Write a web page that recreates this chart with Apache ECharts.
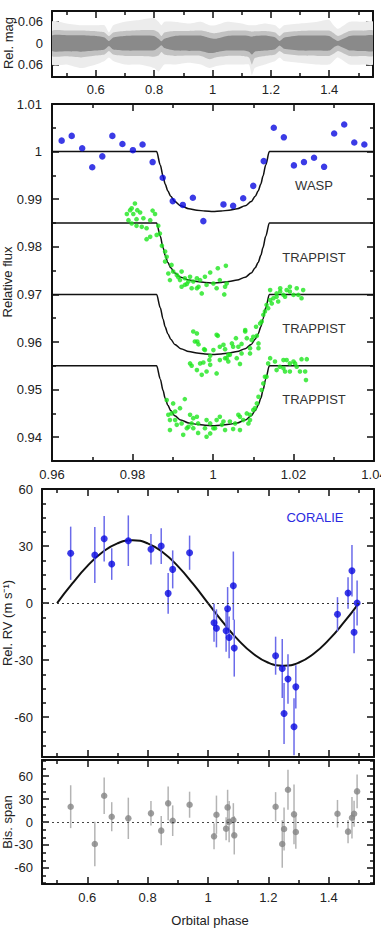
<!DOCTYPE html>
<html>
<head>
<meta charset="utf-8">
<script src="https://cdn.jsdelivr.net/npm/echarts@6/dist/echarts.min.js"></script>
<style>
  html, body { margin: 0; padding: 0; background: #fff; }
  #chart { width: 381px; height: 939px; }
</style>
</head>
<body>
<div id="chart"></div>
<script>
// ---- photometry overview (Rel. mag), band envelope ----
var magPhase = [0.45, 0.50, 0.55, 0.60, 0.63, 0.645, 0.66, 0.70, 0.75, 0.80, 0.815, 0.825, 0.835, 0.87, 0.92, 0.96, 0.99, 1.01, 1.05, 1.10, 1.125, 1.135, 1.145, 1.18, 1.215, 1.23, 1.245, 1.30, 1.36, 1.40, 1.415, 1.43, 1.47, 1.52, 1.55];
var magCoreLo = [-0.021, -0.022, -0.022, -0.020, -0.016, -0.006, -0.016, -0.020, -0.021, -0.020, -0.012, -0.005, -0.012, -0.020, -0.021, -0.021, -0.014, -0.012, -0.020, -0.021, -0.020, -0.018, -0.020, -0.021, -0.016, -0.006, -0.015, -0.021, -0.021, -0.020, -0.012, -0.006, -0.020, -0.021, -0.021];
var magCoreHi = [0.022, 0.023, 0.024, 0.021, 0.018, 0.008, 0.018, 0.021, 0.021, 0.020, 0.012, 0.006, 0.014, 0.021, 0.022, 0.022, 0.028, 0.026, 0.021, 0.021, 0.024, 0.032, 0.024, 0.021, 0.017, 0.007, 0.016, 0.021, 0.021, 0.021, 0.012, 0.007, 0.021, 0.022, 0.022];
var magMidLo = [-0.034, -0.035, -0.035, -0.033, -0.030, -0.020, -0.030, -0.034, -0.036, -0.036, -0.030, -0.020, -0.030, -0.034, -0.034, -0.035, -0.030, -0.028, -0.034, -0.035, -0.034, -0.032, -0.033, -0.034, -0.030, -0.020, -0.030, -0.034, -0.035, -0.035, -0.028, -0.020, -0.034, -0.035, -0.035];
var magMidHi = [0.036, 0.037, 0.040, 0.035, 0.032, 0.022, 0.032, 0.036, 0.036, 0.038, 0.035, 0.025, 0.032, 0.036, 0.035, 0.036, 0.045, 0.040, 0.036, 0.036, 0.040, 0.060, 0.042, 0.036, 0.032, 0.022, 0.030, 0.035, 0.036, 0.036, 0.030, 0.022, 0.036, 0.036, 0.036];
var magHaloLo = [-0.060, -0.055, -0.050, -0.050, -0.050, -0.030, -0.050, -0.060, -0.065, -0.070, -0.060, -0.050, -0.060, -0.060, -0.055, -0.060, -0.050, -0.050, -0.060, -0.055, -0.050, -0.050, -0.050, -0.055, -0.050, -0.040, -0.050, -0.055, -0.060, -0.065, -0.050, -0.040, -0.060, -0.060, -0.060];
var magHaloHi = [0.060, 0.060, 0.070, 0.060, 0.050, 0.040, 0.050, 0.060, 0.060, 0.070, 0.080, 0.070, 0.060, 0.060, 0.055, 0.060, 0.070, 0.065, 0.060, 0.060, 0.060, 0.090, 0.070, 0.060, 0.050, 0.040, 0.050, 0.055, 0.060, 0.060, 0.050, 0.040, 0.060, 0.060, 0.060];

// ---- transit light curves ----
var waspPhase = [0.9624, 0.9649, 0.9675, 0.9700, 0.9725, 0.9750, 0.9775, 0.9801, 0.9825, 0.9850, 0.9875, 0.9900, 0.9925, 0.9950, 0.9976, 1.0026, 1.0050, 1.0075, 1.0100, 1.0126, 1.0151, 1.0176, 1.0201, 1.0226, 1.0251, 1.0276, 1.0301, 1.0326, 1.0351, 1.0376];
var waspFlux = [1.0023, 1.0033, 1.0007, 0.9967, 0.9990, 1.0033, 1.0016, 1.0003, 1.0015, 0.9978, 0.9945, 0.9896, 0.9888, 0.9903, 0.9854, 0.9889, 0.9886, 0.9902, 0.9928, 0.9980, 1.0050, 1.0030, 0.9971, 0.9978, 0.9987, 0.9968, 1.0038, 1.0057, 1.0019, 1.0015];

var trappist1 = [[0.9806,0.9891],[0.9798,0.9881],[0.9786,0.9869],[0.9802,0.9869],[0.9819,0.9872],[0.9790,0.9856],[0.9810,0.9858],[0.9827,0.9860],[0.9850,0.9876],[0.9856,0.9869],[0.9844,0.9856],[0.9798,0.9849],[0.9810,0.9844],[0.9823,0.9842],[0.9835,0.9839],[0.9864,0.9844],[0.9860,0.9825],[0.9844,0.9821],[0.9835,0.9816],[0.9868,0.9828],[0.9873,0.9802],[0.9881,0.9790],[0.9885,0.9779],[0.9881,0.9769],[0.9897,0.9762],[0.9901,0.9748],[0.9889,0.9744],[0.9910,0.9741],[0.9922,0.9748],[0.9918,0.9730],[0.9930,0.9734],[0.9943,0.9737],[0.9935,0.9722],[0.9922,0.9716],[0.9951,0.9727],[0.9960,0.9734],[0.9968,0.9730],[0.9947,0.9713],[0.9972,0.9702],[0.9980,0.9737],[0.9993,0.9746],[1.0012,0.9755],[1.0032,0.9760],[1.0017,0.9730],[1.0001,0.9723],[1.0009,0.9713],[1.0030,0.9716],[1.0034,0.9723],[1.0028,0.9700],[0.9984,0.9720],[0.9964,0.9716],[0.9939,0.9727],[0.9914,0.9736],[0.9893,0.9730],[0.9960,0.9713],[0.9930,0.9720],[0.9794,0.9877],[0.9812,0.9877]];
var trappist2 = [[0.9951,0.9622],[0.9961,0.9601],[0.9964,0.9595],[0.9978,0.9585],[0.9993,0.9571],[1.0012,0.9613],[1.0017,0.9590],[1.0030,0.9585],[1.0047,0.9597],[1.0057,0.9608],[1.0063,0.9590],[1.0080,0.9622],[1.0084,0.9608],[1.0096,0.9604],[1.0109,0.9613],[1.0113,0.9597],[1.0107,0.9632],[1.0121,0.9643],[1.0125,0.9657],[1.0133,0.9678],[1.0142,0.9688],[1.0142,0.9709],[1.0158,0.9695],[1.0167,0.9706],[1.0183,0.9709],[1.0208,0.9713],[0.9943,0.9555],[0.9968,0.9555],[0.9991,0.9562],[0.9993,0.9552],[0.9984,0.9538],[0.9972,0.9531],[1.0009,0.9534],[1.0030,0.9566],[1.0038,0.9559],[1.0067,0.9554],[1.0059,0.9566],[1.0071,0.9576],[1.0092,0.9587],[1.0113,0.9587],[1.0071,0.9596],[1.0038,0.9573],[1.0158,0.9702],[1.0167,0.9713],[1.0191,0.9706],[1.0212,0.9699],[1.0220,0.9692],[1.0200,0.9699],[1.0175,0.9699],[1.0150,0.9692],[1.0162,0.9685],[1.0146,0.9681],[1.0137,0.9671],[1.0129,0.9664],[1.0179,0.9695],[0.9960,0.9618],[0.9955,0.9601],[0.9980,0.9583],[1.0001,0.9583],[1.0009,0.9615],[1.0026,0.9594],[1.0050,0.9590],[1.0080,0.9625],[1.0100,0.9611],[1.0117,0.9639],[0.9976,0.9557],[1.0017,0.9562],[1.0034,0.9566],[1.0042,0.9573],[1.0092,0.9576],[0.9947,0.9550],[0.9960,0.9541],[1.0224,0.9709],[1.0191,0.9716]];
var trappist3 = [[0.9885,0.9478],[0.9901,0.9471],[0.9930,0.9480],[0.9918,0.9461],[0.9897,0.9450],[0.9893,0.9436],[0.9906,0.9436],[0.9910,0.9426],[0.9922,0.9429],[0.9893,0.9415],[0.9939,0.9422],[0.9951,0.9440],[0.9963,0.9429],[0.9951,0.9419],[0.9963,0.9409],[0.9984,0.9401],[0.9980,0.9419],[0.9993,0.9429],[1.0009,0.9436],[1.0005,0.9419],[1.0022,0.9426],[1.0030,0.9415],[1.0042,0.9433],[1.0055,0.9429],[1.0050,0.9417],[1.0067,0.9415],[1.0063,0.9447],[1.0075,0.9436],[1.0084,0.9450],[1.0092,0.9436],[1.0100,0.9457],[1.0109,0.9471],[1.0113,0.9485],[1.0121,0.9499],[1.0125,0.9513],[1.0129,0.9527],[1.0137,0.9555],[1.0142,0.9566],[1.0154,0.9559],[1.0166,0.9548],[1.0175,0.9562],[1.0191,0.9555],[1.0179,0.9538],[1.0204,0.9555],[1.0017,0.9443],[0.9984,0.9436],[1.0183,0.9562],[1.0200,0.9559],[1.0208,0.9548],[1.0220,0.9564],[1.0233,0.9564],[1.0216,0.9538],[1.0229,0.9538],[1.0231,0.9520],[1.0191,0.9538],[1.0175,0.9545],[1.0158,0.9541],[1.0133,0.9527],[1.0104,0.9461],[1.0092,0.9447],[1.0067,0.9443],[1.0026,0.9433],[1.0001,0.9419],[0.9960,0.9443],[0.9993,0.9408],[1.0088,0.9429],[0.9926,0.9405],[0.9935,0.9419],[0.9947,0.9429],[0.9943,0.9447],[0.9906,0.9454],[0.9889,0.9447]];

// transit model shape (depth below each baseline)
var modelPhase = [0.96, 0.986, 0.9869, 0.9876, 0.9881, 0.9888, 0.9895, 0.9905, 0.992, 0.994, 0.996, 0.998, 1.0, 1.002, 1.004, 1.006, 1.008, 1.0095, 1.0105, 1.0112, 1.0119, 1.0124, 1.0131, 1.014, 1.04];
var modelDepth = [0, 0, 0.0028, 0.0052, 0.0068, 0.0083, 0.0094, 0.0105, 0.0114, 0.0120, 0.0123, 0.0125, 0.0126, 0.0125, 0.0123, 0.0120, 0.0114, 0.0105, 0.0094, 0.0083, 0.0068, 0.0052, 0.0028, 0, 0];
var modelBase = [1.0, 0.985, 0.97, 0.955];

// ---- CORALIE radial velocities and bisector spans ----
var rvPhase = [0.545, 0.625, 0.656, 0.681, 0.736, 0.811, 0.845, 0.868, 0.883, 0.939, 1.020, 1.028, 1.060, 1.065, 1.070, 1.084, 1.087, 1.224, 1.246, 1.252, 1.265, 1.285, 1.291, 1.429, 1.464, 1.477, 1.484, 1.494];
var rvVal = [26.2, 25.3, 33.8, 20.5, 32.8, 28.3, 30.0, 5.1, 17.7, 26.5, -10.4, -13.3, -14.6, -3.0, -18.1, 9.1, -23.7, -27.7, -34.4, -58.1, -40.0, -65.1, -44.1, -5.9, 5.3, 17.0, -15.4, 0];
var rvErr = [14, 14.7, 12, 8.3, 13.3, 8, 9.4, 10.7, 10, 9, 10, 10, 11, 11.4, 11, 18, 15, 10, 15.5, 16, 13, 15, 11.4, 9, 8.3, 13.6, 11, 11.8];
var bisVal = [20, -28.7, 34.3, 6.9, 4.8, 11.3, -11.3, 24.4, 1.7, 22.6, -18.7, 9.5, -8.7, 19.1, 0.4, 2.6, -17.4, 20, -28.7, -9.1, 42.1, 10, -13, 10.8, -12.6, 5.6, 10.8, 40];
var bisErr = [28, 29, 24, 19, 27, 16, 19, 22, 20, 17, 17, 25, 15, 23, 27, 22, 25, 19, 31, 28, 26, 39, 22, 18, 15, 27, 17, 22];

var rvModelPhase = [0.50, 0.55, 0.60, 0.65, 0.70, 0.75, 0.80, 0.85, 0.90, 0.95, 1.00, 1.05, 1.10, 1.15, 1.20, 1.25, 1.30, 1.35, 1.40, 1.45, 1.50];
var rvModel = [0, 10.2, 19.4, 26.7, 31.4, 33, 31.4, 26.7, 19.4, 10.2, 0, -10.2, -19.4, -26.7, -31.4, -33, -31.4, -26.7, -19.4, -10.2, 0];

// ---- ticks ----
var phaseMajor = [0.6, 0.8, 1.0, 1.2, 1.4];
var phaseMinor = [0.5, 0.7, 0.9, 1.1, 1.3, 1.5];
var magMajor = [-0.06, 0, 0.06];
var fluxXMajor = [0.96, 0.98, 1.0, 1.02, 1.04];
var fluxXMinor = [0.97, 0.99, 1.01, 1.03];
var fluxYMajor = [0.94, 0.95, 0.96, 0.97, 0.98, 0.99, 1.0, 1.01];
var fluxYMinor = [0.945, 0.955, 0.965, 0.975, 0.985, 0.995, 1.005];
var rvMajor = [-60, -30, 0, 30, 60];
var rvMinor = [-75, -67.5, -52.5, -45, -37.5, -22.5, -15, -7.5, 7.5, 15, 22.5, 37.5, 45, 52.5];
var bisMajor = [-60, -30, 0, 30, 60];
var bisMinor = [-80, -70, -50, -40, -20, -10, 10, 20, 40, 50, 70, 80];

var FONT = 'Liberation Sans, Arial, sans-serif';
var INK = '#111';

var xAxes = [], yAxes = [];

function frameAxis(grid, pos, min, max, major, minor, label, inverse) {
  var isX = pos === 'top' || pos === 'bottom';
  var list = isX ? xAxes : yAxes;
  var base = { type: 'value', gridIndex: grid, position: pos, min: min, max: max, inverse: !!inverse, splitLine: { show: false } };
  var lab = { show: false };
  if (label) {
    lab = Object.assign({ customValues: major, color: '#222', fontSize: 13, fontFamily: FONT, hideOverlap: false }, label);
    // x labels stay centred on their tick, even at the frame edge
    if (isX) { lab.alignMinLabel = 'center'; lab.alignMaxLabel = 'center'; }
  }
  list.push(Object.assign({}, base, {
    axisLine: { show: true, onZero: false, lineStyle: { color: INK, width: 2 } },
    axisTick: { show: true, inside: true, length: 7, customValues: major, lineStyle: { color: INK, width: 1.5 } },
    axisLabel: lab
  }));
  var idx = list.length - 1;
  if (minor && minor.length) {
    list.push(Object.assign({}, base, {
      axisLine: { show: false, onZero: false },
      axisTick: { show: true, inside: true, length: 4, customValues: minor, lineStyle: { color: INK, width: 1.5 } },
      axisLabel: { show: false }
    }));
  }
  return idx;
}

function panel(g, xr, xMajor, xMinor, xLabel, yr, yMajor, yMinor, yLabel, yInv) {
  var xi = frameAxis(g, 'bottom', xr[0], xr[1], xMajor, xMinor, xLabel);
  frameAxis(g, 'top', xr[0], xr[1], xMajor, xMinor, null);
  var yi = frameAxis(g, 'left', yr[0], yr[1], yMajor, yMinor, yLabel, yInv);
  frameAxis(g, 'right', yr[0], yr[1], yMajor, yMinor, null, yInv);
  return { x: xi, y: yi };
}

var pMag = panel(0, [0.45, 1.55], phaseMajor, phaseMinor, { margin: 6 }, [-0.09, 0.095], magMajor, [], { margin: 9 }, true);
var pFlux = panel(1, [0.96, 1.04], fluxXMajor, fluxXMinor, { margin: 7 }, [0.935, 1.01], fluxYMajor, fluxYMinor, { margin: 10 });
var pRv = panel(2, [0.45, 1.55], phaseMajor, phaseMinor, null, [-81, 60], rvMajor, rvMinor, { margin: 9 });
var pBis = panel(3, [0.45, 1.55], phaseMajor, phaseMinor, { margin: 7 }, [-81, 81], bisMajor, bisMinor, { margin: 9 });

function zip(a, b) { return a.map(function (v, i) { return [v, b[i]]; }); }

function errorBars(p, phase, val, err, color) {
  return {
    type: 'custom', xAxisIndex: p.x, yAxisIndex: p.y, silent: true, z: 2,
    data: phase.map(function (v, i) { return [v, val[i], err[i]]; }),
    renderItem: function (params, api) {
      var a = api.coord([api.value(0), api.value(1) - api.value(2)]);
      var b = api.coord([api.value(0), api.value(1) + api.value(2)]);
      return { type: 'line', shape: { x1: a[0], y1: a[1], x2: b[0], y2: b[1] }, style: { stroke: color, lineWidth: 1.5 } };
    }
  };
}

function bandPoints(api, lo, hi) {
  var pts = [];
  magPhase.forEach(function (p, i) { pts.push(api.coord([p, lo[i]])); });
  for (var i = magPhase.length - 1; i >= 0; i--) pts.push(api.coord([magPhase[i], hi[i]]));
  return pts;
}

var series = [];

// Rel. mag cloud
series.push({
  type: 'custom', xAxisIndex: pMag.x, yAxisIndex: pMag.y, silent: true, clip: true,
  data: [[magPhase[0], 0]],
  renderItem: function (params, api) {
    return {
      type: 'group', children: [
        { type: 'polygon', shape: { points: bandPoints(api, magHaloLo, magHaloHi), smooth: 0.2 }, style: { fill: '#ececec' } },
        { type: 'polygon', shape: { points: bandPoints(api, magMidLo, magMidHi), smooth: 0.2 }, style: { fill: '#c2c2c2' } },
        { type: 'polygon', shape: { points: bandPoints(api, magCoreLo, magCoreHi), smooth: 0.2 }, style: { fill: '#8a8a8a' } }
      ]
    };
  }
});

// transit models
modelBase.forEach(function (b) {
  series.push({
    type: 'line', xAxisIndex: pFlux.x, yAxisIndex: pFlux.y, showSymbol: false, silent: true,
    smooth: 0.3, smoothMonotone: 'x', z: 1,
    lineStyle: { color: INK, width: 1.5 },
    data: modelPhase.map(function (p, i) { return [p, b - modelDepth[i]]; })
  });
});

series.push({
  type: 'scatter', xAxisIndex: pFlux.x, yAxisIndex: pFlux.y, symbolSize: 6.5, z: 3,
  itemStyle: { color: '#0a0ae0' }, data: zip(waspPhase, waspFlux)
});
[trappist1, trappist2, trappist3].forEach(function (d) {
  series.push({
    type: 'scatter', xAxisIndex: pFlux.x, yAxisIndex: pFlux.y, symbolSize: 4.6, z: 3,
    itemStyle: { color: '#1ee61e' }, data: d
  });
});

// RV
series.push(errorBars(pRv, rvPhase, rvVal, rvErr, '#6b6bea'));
series.push({
  type: 'line', xAxisIndex: pRv.x, yAxisIndex: pRv.y, showSymbol: false, silent: true, smooth: 0.5, z: 1,
  lineStyle: { color: INK, width: 2 },
  data: zip(rvModelPhase, rvModel),
  markLine: {
    silent: true, symbol: ['none', 'none'], label: { show: false },
    lineStyle: { color: '#333', type: [2, 3], width: 1 },
    data: [{ yAxis: 0 }]
  }
});
series.push({
  type: 'scatter', xAxisIndex: pRv.x, yAxisIndex: pRv.y, symbolSize: 7, z: 3,
  itemStyle: { color: '#0a0ae0' }, data: zip(rvPhase, rvVal)
});

// bisector
series.push(errorBars(pBis, rvPhase, bisVal, bisErr, '#b4b4b4'));
series.push({
  type: 'scatter', xAxisIndex: pBis.x, yAxisIndex: pBis.y, symbolSize: 6.5, z: 3,
  itemStyle: { color: '#858585' }, data: zip(rvPhase, bisVal),
  markLine: {
    silent: true, symbol: ['none', 'none'], label: { show: false },
    lineStyle: { color: '#444', type: [2, 3], width: 1 },
    data: [{ yAxis: 0 }]
  }
});

function txt(s, x, y, opts) {
  return Object.assign({
    type: 'text', x: x, y: y, silent: true,
    style: Object.assign({ text: s, fill: '#222', font: '13px ' + FONT, textAlign: 'center', textVerticalAlign: 'middle' }, (opts && opts.style) || {})
  }, opts && opts.rotation ? { rotation: opts.rotation } : {});
}
var ROT = Math.PI / 2;

var chart = echarts.init(document.getElementById('chart'), null, { renderer: 'svg' });
chart.setOption({
  animation: false,
  backgroundColor: '#fff',
  grid: [
    { left: 52, top: 11, width: 321, height: 66, outerBoundsMode: 'none' },
    { left: 52, top: 104, width: 322, height: 357, outerBoundsMode: 'none' },
    { left: 42, top: 489, width: 332, height: 268, outerBoundsMode: 'none' },
    { left: 42, top: 760, width: 332, height: 124, outerBoundsMode: 'none' }
  ],
  xAxis: xAxes,
  yAxis: yAxes,
  series: series,
  graphic: [
    txt('Rel. mag', 8, 43, { rotation: ROT }),
    txt('Relative flux', 7, 282, { rotation: ROT }),
    txt('Rel. RV (m s\u207B\u00B9)', 7, 623, { rotation: ROT }),
    txt('Bis. span', 7, 822, { rotation: ROT }),
    txt('Orbital phase', 210, 920),
    txt('WASP', 314, 185, { style: { fill: '#333' } }),
    txt('TRAPPIST', 314, 257, { style: { fill: '#333' } }),
    txt('TRAPPIST', 314, 328, { style: { fill: '#333' } }),
    txt('TRAPPIST', 314, 399, { style: { fill: '#333' } }),
    txt('CORALIE', 315, 517, { style: { fill: '#2a2ae0' } })
  ]
});
</script>
</body>
</html>
